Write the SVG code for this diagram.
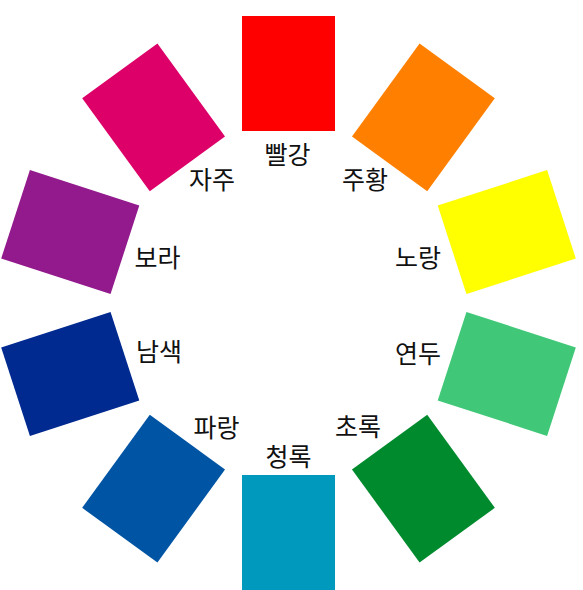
<svg xmlns="http://www.w3.org/2000/svg" width="583" height="590" viewBox="0 0 583 590">
<style>
text{font-family:"Noto Sans CJK KR","Noto Sans",sans-serif;font-size:25px;fill:#111;text-anchor:middle}
</style>
<defs>
<rect id="sw" x="242" y="16" width="93" height="115"/>
</defs>
<rect width="583" height="590" fill="#fff"/>
<g id="red"><use href="#sw" fill="#FF0000"/><text x="287.5" y="163.5">빨강</text></g>
<g id="orange"><use href="#sw" fill="#FF8000" transform="rotate(36 288.5 303)"/><text x="365" y="189">주황</text></g>
<g id="yellow"><use href="#sw" fill="#FFFF00" transform="rotate(72 288.5 303)"/><text x="418" y="266.5">노랑</text></g>
<g id="yellowgreen"><use href="#sw" fill="#40C878" transform="rotate(108 288.5 303)"/><text x="418" y="362.5">연두</text></g>
<g id="green"><use href="#sw" fill="#008A2E" transform="rotate(144 288.5 303)"/><text x="358" y="436">초록</text></g>
<g id="bluegreen"><use href="#sw" fill="#0099BE" transform="rotate(180 288.5 303)"/><text x="288.5" y="465.5">청록</text></g>
<g id="blue"><use href="#sw" fill="#0054A4" transform="rotate(216 288.5 303)"/><text x="216.5" y="437">파랑</text></g>
<g id="navy"><use href="#sw" fill="#002A90" transform="rotate(252 288.5 303)"/><text x="159" y="361">남색</text></g>
<g id="purple"><use href="#sw" fill="#921A8C" transform="rotate(288 288.5 303)"/><text x="157.5" y="267">보라</text></g>
<g id="magenta"><use href="#sw" fill="#DC0068" transform="rotate(324 288.5 303)"/><text x="212" y="189">자주</text></g>
</svg>
